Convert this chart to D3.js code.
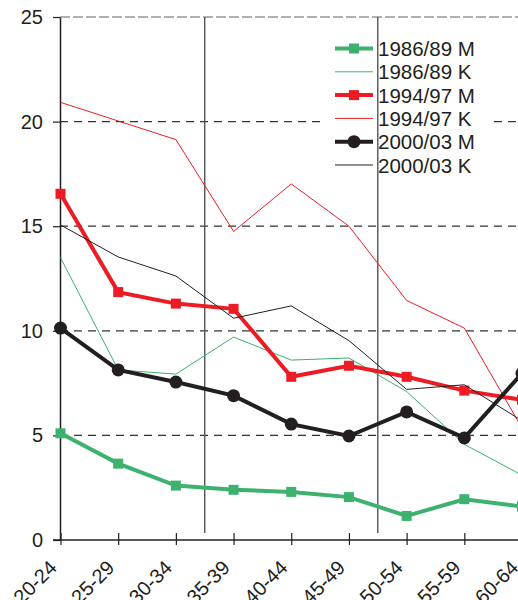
<!DOCTYPE html>
<html><head><meta charset="utf-8">
<script src="https://cdn.jsdelivr.net/npm/d3@7"></script>
<style>
html,body{margin:0;padding:0;background:#fff;overflow:hidden;}
svg{display:block;}
text{font-family:"Liberation Sans",Arial,sans-serif;fill:#231f20;}
</style></head>
<body>
<script>
const categories = ["20-24","25-29","30-34","35-39","40-44","45-49","50-54","55-59","60-64"];
const m8689 = [5.1, 3.65, 2.6, 2.4, 2.3, 2.05, 1.15, 1.95, 1.6];
const k8689 = [13.5, 8.13, 7.93, 9.7, 8.6, 8.7, 7.1, 4.57, 3.1];
const m9497 = [16.55, 11.85, 11.3, 11.05, 7.8, 8.33, 7.8, 7.14, 6.7];
const k9497 = [20.92, 20.03, 19.14, 14.75, 17.02, 15.0, 11.45, 10.13, 5.35];
const m0003 = [10.13, 8.13, 7.55, 6.9, 5.54, 4.97, 6.12, 4.88, 7.97];
const k0003 = [15.06, 13.53, 12.62, 10.6, 11.19, 9.53, 7.2, 7.42, 5.7];
const yTicks = [0, 5, 10, 15, 20, 25];
const dividers = [2.5, 5.5]; // vertical lines between categories

const GREEN = "#3cb26e", RED = "#ed1c24", BLACK = "#231f20";
const series = [
  {name:"1986/89 M", values:m8689, color:GREEN, width:4, marker:"square"},
  {name:"1986/89 K", values:k8689, color:GREEN, width:1, marker:null},
  {name:"1994/97 M", values:m9497, color:RED, width:4, marker:"square"},
  {name:"1994/97 K", values:k9497, color:RED, width:1, marker:null},
  {name:"2000/03 M", values:m0003, color:BLACK, width:4, marker:"circle"},
  {name:"2000/03 K", values:k0003, color:BLACK, width:1, marker:null}
];

const W = 600, H = 600;
const svg = d3.select("body").append("svg").attr("width", W).attr("height", H);

const x = d3.scalePoint().domain(categories).range([60.5, 522]);
const xl = d3.scaleLinear().domain([0, categories.length - 1]).range([60.5, 522]);
const y = d3.scaleLinear().domain([0, 25]).range([540, 17]);

// gridlines
svg.append("g").selectAll("line").data(yTicks.filter(d => d > 0)).join("line")
  .attr("x1", 60).attr("x2", W).attr("y1", d => y(d)).attr("y2", d => y(d))
  .attr("stroke", d => d === 25 ? "#666" : "#333").attr("stroke-width", 1.2)
  .attr("stroke-dasharray", d => d === 25 ? "10,3" : "8,6");

// legend background
const legX = 335, legY0 = 48.5, legDy = 23.3;
svg.append("rect").attr("x", 326).attr("y", 32).attr("width", 164).attr("height", 148).attr("fill", "#fff");

// vertical divider lines
svg.append("g").selectAll("line").data(dividers).join("line")
  .attr("x1", d => xl(d)).attr("x2", d => xl(d)).attr("y1", y(25)).attr("y2", 533)
  .attr("stroke", "#555").attr("stroke-width", 1.4);

// axes
const yAxis = d3.axisLeft(y).tickValues(yTicks).tickSize(7).tickPadding(10).tickSizeOuter(0);
const gy = svg.append("g").attr("transform", "translate(60,0)").call(yAxis);
gy.select(".domain").attr("stroke", BLACK).attr("stroke-width", 1.5);
gy.selectAll(".tick line").attr("stroke", BLACK).attr("stroke-width", 1.2);
gy.selectAll(".tick text").attr("font-size", 20).attr("font-family", "Liberation Sans, Arial, sans-serif").attr("fill", BLACK);

const xAxis = d3.axisBottom(x).tickSize(5).tickSizeOuter(0);
const gx = svg.append("g").attr("transform", "translate(0,540)").call(xAxis);
gx.select(".domain").remove();
gx.append("line").attr("x1", 53).attr("x2", W).attr("y1", 0).attr("y2", 0).attr("stroke", BLACK).attr("stroke-width", 1.5);
gx.selectAll(".tick line").attr("y1", -7).attr("y2", 5).attr("stroke", BLACK).attr("stroke-width", 1.2);
gx.selectAll(".tick text")
  .attr("font-size", 20).attr("font-family", "Liberation Sans, Arial, sans-serif").attr("fill", BLACK)
  .attr("text-anchor", "end").attr("dy", null).attr("y", 0)
  .attr("transform", "translate(-3,29) rotate(-45)");

// series
const line = d3.line().x((d, i) => x(categories[i])).y(d => y(d));
const gS = svg.append("g");
series.forEach(s => {
  gS.append("path").datum(s.values).attr("d", line)
    .attr("fill", "none").attr("stroke", s.color).attr("stroke-width", s.width)
    .attr("stroke-linejoin", "miter");
  if (s.marker === "square") {
    gS.append("g").selectAll("rect").data(s.values).join("rect")
      .attr("x", (d, i) => x(categories[i]) - 5).attr("y", d => y(d) - 5)
      .attr("width", 10).attr("height", 10).attr("fill", s.color);
  } else if (s.marker === "circle") {
    gS.append("g").selectAll("circle").data(s.values).join("circle")
      .attr("cx", (d, i) => x(categories[i])).attr("cy", d => y(d))
      .attr("r", 6.5).attr("fill", s.color);
  }
});

// legend
const gL = svg.append("g");
series.forEach((s, i) => {
  const cy = legY0 + i * legDy;
  gL.append("line").attr("x1", legX).attr("x2", legX + 38).attr("y1", cy).attr("y2", cy)
    .attr("stroke", s.color).attr("stroke-width", s.width);
  if (s.marker === "square") {
    gL.append("rect").attr("x", legX + 19 - 5).attr("y", cy - 5).attr("width", 10).attr("height", 10).attr("fill", s.color);
  } else if (s.marker === "circle") {
    gL.append("circle").attr("cx", legX + 19).attr("cy", cy).attr("r", 6.5).attr("fill", s.color);
  }
  gL.append("text").attr("x", 378).attr("y", cy + 7.5).attr("font-size", 20.5).text(s.name);
});
</script>
</body></html>
